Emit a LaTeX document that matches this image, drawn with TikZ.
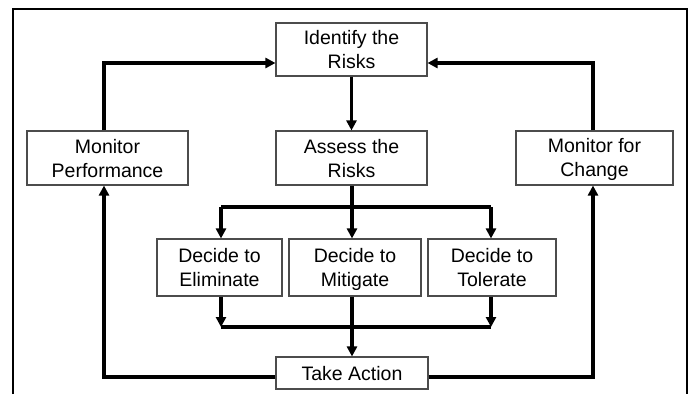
\documentclass[tikz,border=0pt]{standalone}
\usepackage{fontspec}
\setmainfont{Liberation Sans}
\usetikzlibrary{arrows.meta}
\newcommand\myst{\rule[-3.5pt]{0pt}{21pt}}
\begin{document}
\begin{tikzpicture}[x=1pt,y=-1pt,
  box/.style={draw=black!70,line width=1.1pt,fill=white,align=center,inner sep=0pt,
    font=\fontsize{19.5}{24}\selectfont},
  conn/.style={line width=3.2pt,draw=black},
  arr/.style={-{Triangle[length=10pt,width=10pt]}},
  frame/.style={line width=1.6pt,draw=black}]
\useasboundingbox (0,0) rectangle (690,394);
\draw[frame] (13,394) -- (13,9) -- (687,9) -- (687,394);

\node[box,minimum width=151pt,minimum height=53pt] (ident) at (351.5,49.5) {\myst Identify the\\Risks\myst};
\node[box,minimum width=151pt,minimum height=54pt] (assess) at (351.5,158) {\myst Assess the\\Risks\myst};
\node[box,minimum width=161pt,minimum height=54pt] (monperf) at (107.5,158) {\myst Monitor\\Performance\myst};
\node[box,minimum width=157pt,minimum height=54pt] (monchg) at (594.5,158) {\myst Monitor for\\Change\myst};
\node[box,minimum width=125pt,minimum height=57pt] (elim) at (219.5,267.5) {\myst Decide to\\Eliminate\myst};
\node[box,minimum width=132pt,minimum height=57pt] (mitig) at (355,267.5) {\myst Decide to\\Mitigate\myst};
\node[box,minimum width=128pt,minimum height=57pt] (toler) at (492,267.5) {\myst Decide to\\Tolerate\myst};
\node[box,minimum width=152pt,minimum height=32pt] (take) at (352,373) {\myst Take Action\myst};

% identify -> assess
\draw[conn,arr] (ident.south) -- (assess.south |- assess.north);

% split
\coordinate (sl) at (221,207);
\coordinate (sr) at (491,207);
\coordinate (sm) at (352,207);
\draw[conn] (assess.south -| sm) -- (sm);
\draw[conn] (sl) -- (sr);
\draw[conn,arr] (sl) -- (sl |- elim.north);
\draw[conn,arr] (sm) -- (sm |- mitig.north);
\draw[conn,arr] (sr) -- (sr |- toler.north);

% merge
\coordinate (ml) at (221,327);
\coordinate (mr) at (491,327);
\draw[conn] (ml) -- (mr);
\draw[conn,arr] (ml |- elim.south) -- (ml);
\draw[conn,arr] (mr |- toler.south) -- (mr);
\draw[conn,arr] (sm |- mitig.south) -- (sm |- take.north);

% feedback loops
\coordinate (tl) at (take.west |- 0,377);
\coordinate (tr) at (take.east |- 0,377);
\coordinate (pl) at (104,377);
\coordinate (pr) at (593,377);
\draw[conn,arr] (tl) -- (pl) -- (pl |- monperf.south);
\draw[conn,arr] (tr) -- (pr) -- (pr |- monchg.south);

\coordinate (ul) at (104,63);
\coordinate (ur) at (593,63);
\draw[conn,arr] (ul |- monperf.north) -- (ul) -- (ul -| ident.west);
\draw[conn,arr] (ur |- monchg.north) -- (ur) -- (ur -| ident.east);
\end{tikzpicture}
\end{document}
